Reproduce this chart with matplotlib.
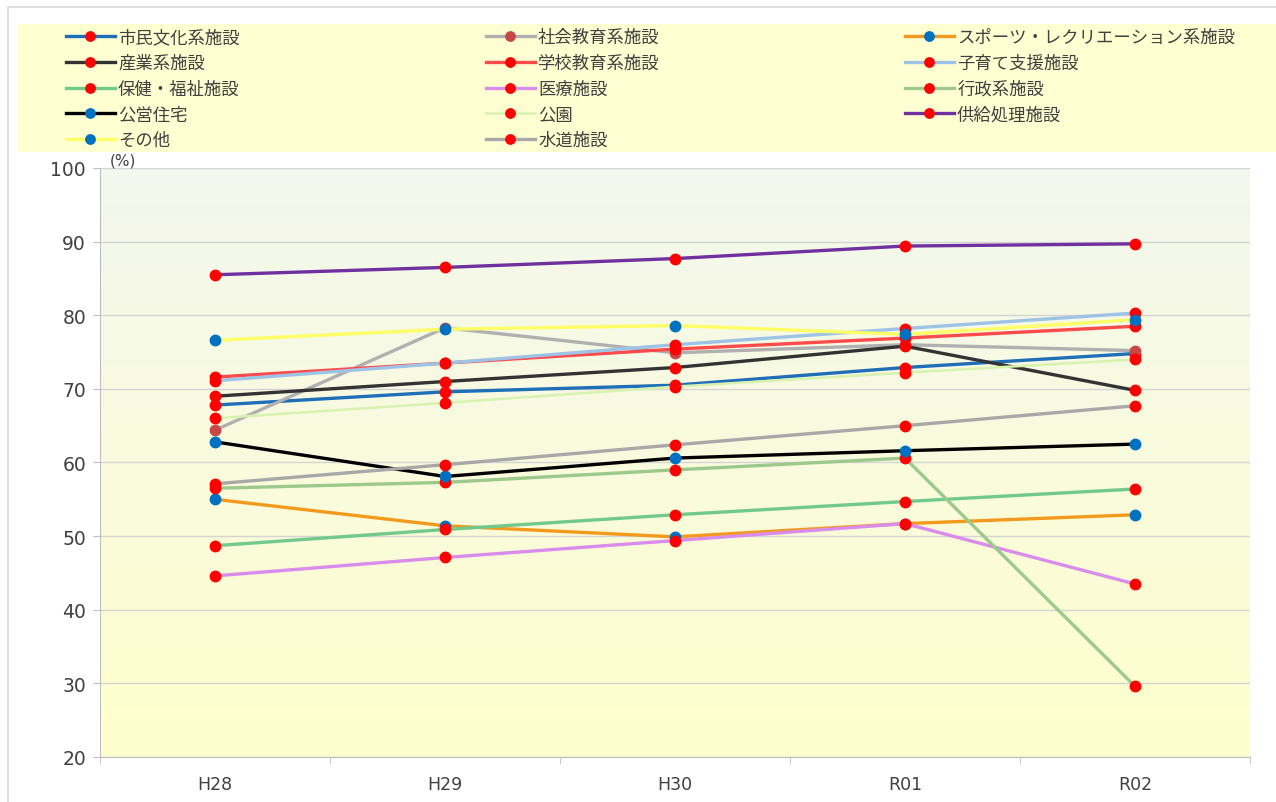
import numpy as np
import matplotlib
matplotlib.use('Agg')
import matplotlib.pyplot as plt
from matplotlib.patches import Rectangle
from matplotlib.colors import LinearSegmentedColormap

plt.rcParams['font.family'] = ['Noto Sans CJK JP', 'DejaVu Sans']

# 年度
categories = ['H28', 'H29', 'H30', 'R01', 'R02']

# 施設分類ごとの値 (%)
shimin_bunka = [67.8, 69.6, 70.5, 72.9, 74.8]
shakai_kyoiku = [64.4, 78.3, 74.9, 76.0, 75.2]
sports = [55.0, 51.4, 49.9, 51.7, 52.9]
sangyo = [69.0, 71.0, 72.9, 75.8, 69.8]
gakko = [71.6, 73.5, 75.4, 76.9, 78.5]
kosodate = [71.1, 73.5, 76.0, 78.2, 80.3]
hoken_fukushi = [48.7, 50.9, 52.9, 54.7, 56.4]
iryo = [44.6, 47.1, 49.4, 51.7, 43.5]
gyosei = [56.5, 57.3, 59.0, 60.6, 29.6]
koei_jutaku = [62.8, 58.1, 60.6, 61.6, 62.5]
koen = [66.0, 68.1, 70.3, 72.2, 74.0]
kyokyu = [85.5, 86.5, 87.7, 89.4, 89.7]
sonota = [76.6, 78.1, 78.6, 77.4, 79.4]
suido = [57.1, 59.7, 62.4, 65.0, 67.7]

names = ['市民文化系施設', '社会教育系施設', 'スポーツ・レクリエーション系施設',
         '産業系施設', '学校教育系施設', '子育て支援施設',
         '保健・福祉施設', '医療施設', '行政系施設',
         '公営住宅', '公園', '供給処理施設',
         'その他', '水道施設']
values = [shimin_bunka, shakai_kyoiku, sports,
          sangyo, gakko, kosodate,
          hoken_fukushi, iryo, gyosei,
          koei_jutaku, koen, kyokyu,
          sonota, suido]

RED = '#FF0000'
BLUE = '#0070C0'
# (線の色, マーカー色, 線幅)
styles = [('#1F6FB8', RED, 2.4), ('#B0B0B0', '#C84848', 2.4), ('#F39A1E', BLUE, 2.4),
          ('#333333', RED, 2.4), ('#FF4B4B', RED, 2.4), ('#9DC3E6', RED, 2.4),
          ('#72C98C', RED, 2.4), ('#D98CEB', RED, 2.4), ('#9DC98C', RED, 2.4),
          ('#000000', BLUE, 2.4), ('#D8F2B0', RED, 1.8), ('#7030A0', RED, 2.4),
          ('#FFFF66', BLUE, 2.4), ('#A8A8A8', RED, 2.4)]

fig = plt.figure(figsize=(12.76, 8.03), dpi=100)
fig.patch.set_facecolor('white')

# 外枠と凡例の背景
fig.patches.append(Rectangle((8 / 1276, -0.05), 1.1, 1 - 8 / 803 + 0.05, transform=fig.transFigure,
                             facecolor='none', edgecolor='#D9D9D9', linewidth=1.2))
fig.patches.append(Rectangle((18 / 1276, 1 - 153 / 803), 1.0, 128 / 803, transform=fig.transFigure,
                             facecolor='#FFFFD2', edgecolor='none'))

ax = fig.add_axes([100 / 1276, 1 - 758 / 803, 1150 / 1276, 589 / 803])

# 背景のグラデーション
grad = np.linspace(0, 1, 256).reshape(-1, 1)
cmap_bg = LinearSegmentedColormap.from_list('bg', ['#F3F7EE', '#FFFFCC'])
ax.imshow(grad, cmap=cmap_bg, aspect='auto', extent=(0, 1, 0, 1),
          transform=ax.transAxes, zorder=0)

x = np.arange(len(categories))
handles = []
for i, (name, v) in enumerate(zip(names, values)):
    lc, mc, lw = styles[i]
    ln, = ax.plot(x, v, color=lc, lw=lw, marker='o', markersize=7.5,
                  markerfacecolor=mc, markeredgecolor=mc, label=name, zorder=3 + i * 0.01)
    handles.append(ln)

ax.set_xlim(-0.5, len(categories) - 0.5)
ax.set_ylim(20, 100)
ax.set_yticks(np.arange(20, 101, 10))
ax.grid(axis='y', color='#D4D4D4', lw=1.0, zorder=1)
ax.set_axisbelow(True)

ax.set_xticks(x)
ax.set_xticklabels(categories, fontsize=12.5, color='#404040', family='DejaVu Sans')
ax.set_xticks(np.arange(-0.5, len(categories)), minor=True)
ax.tick_params(axis='x', which='major', length=0, pad=13)
ax.tick_params(axis='x', which='minor', length=5, color='#BFBFBF', direction='out')
ax.tick_params(axis='y', length=5, color='#BFBFBF', pad=5, labelsize=13.5, labelcolor='#404040')
for t in ax.get_yticklabels():
    t.set_family('DejaVu Sans')

for s in ['top', 'right']:
    ax.spines[s].set_visible(False)
ax.spines['left'].set_color('#BFBFBF')
ax.spines['bottom'].set_color('#BFBFBF')

fig.text(110 / 1276, 1 - 161 / 803, '(%)', fontsize=11, color='#404040', va='center',
         family='DejaVu Sans')

# 凡例 (3列)
col_x = [66 / 1276, 486 / 1276, 905 / 1276]
for c in range(3):
    hs = handles[c::3]
    leg = fig.legend(handles=hs, labels=[h.get_label() for h in hs], loc='upper left',
                     bbox_to_anchor=(col_x[c], 1 - 29 / 803), frameon=False,
                     fontsize=12.5, handlelength=2.8, handletextpad=0.2,
                     labelspacing=0.45, borderpad=0, borderaxespad=0, markerscale=0.9)
    for t in leg.get_texts():
        t.set_color('#404040')

fig.savefig('out.png', dpi=100)
